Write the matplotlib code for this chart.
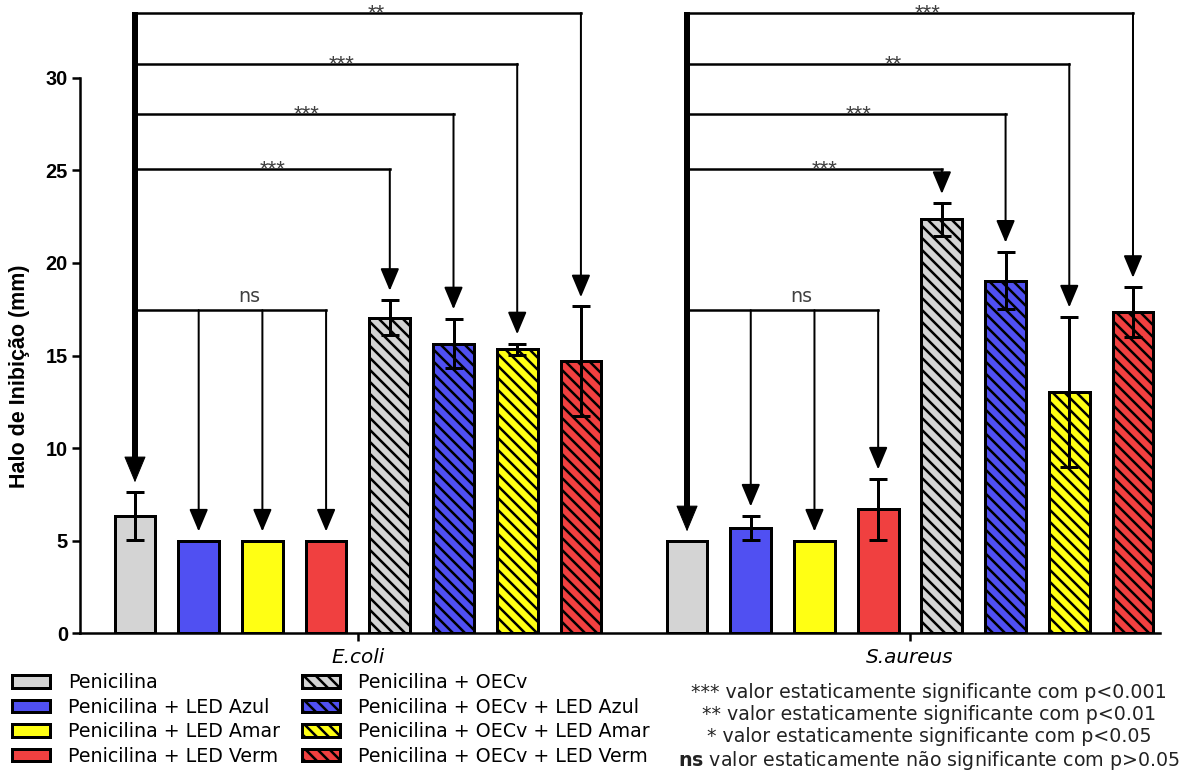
import matplotlib
matplotlib.use('Agg')
import matplotlib.pyplot as plt
import numpy as np

# ---------------- data ----------------
groups = ['E.coli', 'S.aureus']
treatments = ['Penicilina', 'Penicilina + LED Azul', 'Penicilina + LED Amar',
              'Penicilina + LED Verm', 'Penicilina + OECv',
              'Penicilina + OECv + LED Azul', 'Penicilina + OECv + LED Amar',
              'Penicilina + OECv + LED Verm']
ecoli_mean = [6.35, 5.0, 5.0, 5.0, 17.05, 15.65, 15.35, 14.7]
ecoli_err = [1.3, 0.0, 0.0, 0.0, 0.95, 1.35, 0.3, 2.95]
saureus_mean = [5.0, 5.7, 5.0, 6.7, 22.35, 19.05, 13.05, 17.35]
saureus_err = [0.0, 0.65, 0.0, 1.65, 0.88, 1.55, 4.05, 1.35]
sig_levels = [25.05, 28.05, 30.75, 33.5]
ns_level = 17.45
ecoli_sig = ['***', '***', '***', '**']
saureus_sig = ['***', '***', '**', '***']
yticks = [0, 5, 10, 15, 20, 25, 30]
note_lines = ['*** valor estaticamente significante com p<0.001',
              '** valor estaticamente significante com p<0.01',
              '* valor estaticamente significante com p<0.05',
              r'$\mathbf{ns}$ valor estaticamente não significante com p>0.05']

# ---------------- style ----------------
colors = ['#d4d4d4', '#5050f2', '#ffff14', '#f04040'] * 2
hatches = [''] * 4 + ['\\\\'] * 4
W, H, DPI = 1189, 772, 72
plt.rcParams['hatch.linewidth'] = 2.5
plt.rcParams['font.family'] = ['DejaVu Sans']

fig = plt.figure(figsize=(W / DPI, H / DPI), dpi=DPI)
ax = fig.add_axes([80 / W, 1 - 633.3 / H, 1080 / W, 633.3 / H])
group_offset = 8.666
xs_all = [np.arange(8) + g * group_offset for g in range(2)]
ax.set_xlim(-0.863, 16.09)
ax.set_ylim(0, 34.2)

def arrow(x, y0, y1, lw=2, hl=1.9, hw=0.8):
    ax.annotate('', xy=(x, y1), xytext=(x, y0),
                arrowprops=dict(arrowstyle=f'-|>,head_length={hl},head_width={hw}',
                                lw=lw, color='black', shrinkA=0, shrinkB=0,
                                mutation_scale=10), zorder=5)

handles = []
for g, (means, errs, sig) in enumerate([(ecoli_mean, ecoli_err, ecoli_sig),
                                         (saureus_mean, saureus_err, saureus_sig)]):
    xs = xs_all[g]
    bars = ax.bar(xs, means, width=0.64, color=colors, edgecolor='black',
                  linewidth=3, zorder=2)
    for p, h in zip(bars, hatches):
        p.set_hatch(h)
    if g == 0:
        handles = bars.patches
    ax.errorbar(xs, means, yerr=errs, fmt='none', ecolor='black', elinewidth=3,
                capsize=9, capthick=3, zorder=3)
    tips = [m + e + 0.5 for m, e in zip(means, errs)]
    x0 = xs[0]
    # thick reference line
    ax.plot([x0, x0], [tips[0] + 1.0, sig_levels[-1] + 0.05], lw=6, color='black',
            solid_capstyle='butt', zorder=5)
    arrow(x0, sig_levels[-1], tips[0], lw=1, hl=2.4, hw=1.0)
    # significance brackets
    for k, lvl in enumerate(sig_levels):
        tx = xs[4 + k]
        ax.plot([x0, tx], [lvl, lvl], lw=2.5, color='black',
                solid_capstyle='projecting', zorder=5)
        arrow(tx, lvl, tips[4 + k])
        lx = x0 + 0.54 * (tx - x0)
        ax.annotate(sig[k], xy=(lx, lvl), xytext=(0, -6), textcoords='offset points',
                    ha='center', va='baseline', fontsize=22, color='#404040',
                    family='Liberation Sans', zorder=6)
    # ns bracket
    ax.plot([x0, xs[3]], [ns_level, ns_level], lw=2.5, color='black',
            solid_capstyle='projecting', zorder=5)
    for k in range(1, 4):
        arrow(xs[k], ns_level, tips[k])
    lx = x0 + 0.6 * (xs[3] - x0)
    ax.annotate('ns', xy=(lx, ns_level), xytext=(0, 8), textcoords='offset points',
                ha='center', va='baseline', fontsize=19, color='#404040', zorder=6)

# axes styling
for s in ['top', 'right']:
    ax.spines[s].set_visible(False)
ax.spines['left'].set_bounds(0, 30)
ax.spines['left'].set_linewidth(2.5)
ax.spines['bottom'].set_linewidth(2.5)
ax.set_yticks(yticks)
ax.set_yticklabels([str(t) for t in yticks], fontsize=20, fontweight='bold',
                   family='Liberation Sans')
ax.set_xticks([x.mean() for x in xs_all])
ax.set_xticklabels(groups, fontsize=20, style='italic')
ax.tick_params(axis='both', length=8, width=2.5, direction='out')
ax.tick_params(axis='y', pad=4)
ax.tick_params(axis='x', pad=7)
ax.set_ylabel('Halo de Inibição (mm)', fontsize=21.5, fontweight='bold',
              family='Liberation Sans')
ax.yaxis.set_label_coords(-0.046, 0.406)

# legends
leg_kw = dict(loc='upper left', frameon=False, prop={'family': 'DejaVu Sans', 'size': 19},
              handlelength=2.0, handleheight=0.63, handletextpad=0.95,
              labelspacing=0.29, borderpad=0, borderaxespad=0)
fig.legend(handles[:4], treatments[:4], bbox_to_anchor=(12 / W, 1 - 673 / H), **leg_kw)
fig.legend(handles[4:], treatments[4:], bbox_to_anchor=(302 / W, 1 - 673 / H), **leg_kw)

for line, yp in zip(note_lines, [692, 715, 737, 760]):
    fig.text(929 / W, 1 - yp / H, line, ha='center', va='center', fontsize=19,
             color='#222222')

fig.savefig('out.png', dpi=DPI)
